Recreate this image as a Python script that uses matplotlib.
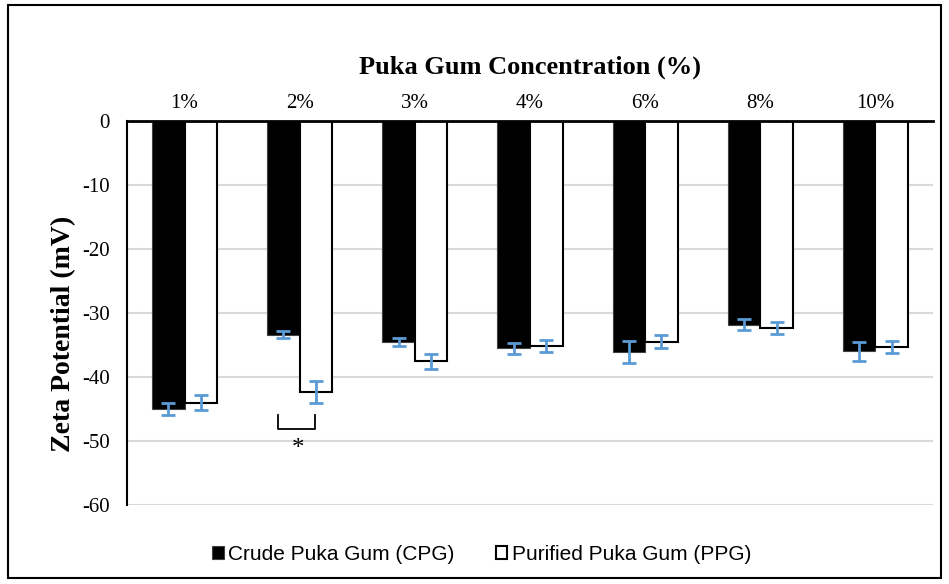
import matplotlib
matplotlib.use("Agg")
import matplotlib.pyplot as plt
import numpy as np
from matplotlib.patches import Rectangle

categories = ["1%", "2%", "3%", "4%", "6%", "8%", "10%"]
cpg = [-45.0, -33.4, -34.5, -35.5, -36.1, -31.8, -36.0]
cpg_err = [0.9, 0.55, 0.65, 0.85, 1.7, 0.8, 1.45]
ppg = [-44.0, -42.4, -37.55, -35.2, -34.5, -32.4, -35.3]
ppg_err = [1.2, 1.7, 1.2, 0.95, 1.0, 0.95, 0.95]
yticks = [0, -10, -20, -30, -40, -50, -60]

serif = "Liberation Serif"
sans = "Liberation Sans"

fig = plt.figure(figsize=(9.49, 5.84), dpi=100)
ax = fig.add_axes([0.1338, 0.1353, 0.9831 - 0.1338, 0.7928 - 0.1353])

x = np.arange(len(categories))
w = 0.283
err_col = "#5B9BD5"
ax.bar(x - w / 2, cpg, w, color="black", edgecolor="#404040", linewidth=0.8,
       label="Crude Puka Gum (CPG)", zorder=2)
ax.bar(x + w / 2, ppg, w, color="white", edgecolor="black", linewidth=1.5,
       label="Purified Puka Gum (PPG)", zorder=2)
ax.errorbar(x - w / 2, cpg, yerr=cpg_err, fmt="none", ecolor=err_col,
            elinewidth=2, capsize=5, capthick=2, zorder=3)
ax.errorbar(x + w / 2, ppg, yerr=ppg_err, fmt="none", ecolor=err_col,
            elinewidth=2, capsize=5, capthick=2, zorder=3)

ax.set_xlim(-0.5, len(categories) - 0.5)
ax.set_ylim(-60, 0)
ax.set_yticks(yticks)
ax.set_yticklabels([str(v) for v in yticks], fontfamily=serif, fontsize=15)
ax.yaxis.grid(True, color="#D9D9D9", linewidth=1.5, zorder=0)
ax.set_axisbelow(True)
ax.tick_params(axis="y", length=0, pad=12.5)
ax.xaxis.tick_top()
ax.set_xticks(x)
ax.set_xticklabels(categories, fontfamily=serif, fontsize=15)
ax.tick_params(axis="x", length=0, pad=6)
for s in ["right", "bottom"]:
    ax.spines[s].set_visible(False)
ax.spines["top"].set_linewidth(2)
ax.spines["left"].set_linewidth(1.5)
ax.spines["top"].set_zorder(4)

ax.set_title("Puka Gum Concentration (%)", fontfamily=serif, fontweight="bold",
             fontsize=19, pad=34)
ax.set_ylabel("Zeta Potential (mV)", fontfamily=serif, fontweight="bold",
              fontsize=20)
ax.yaxis.set_label_coords(-0.063, 0.445)

# significance bracket for 2%
bx0, bx1 = x[1] - w / 2 - 0.045, x[1] + w / 2 - 0.01
ax.plot([bx0, bx0, bx1, bx1], [-45.9, -48.1, -48.1, -45.9], color="black",
        linewidth=1.3, clip_on=False, zorder=3)
ax.text(x[1] - 0.015, -51.3, "*", ha="center", va="center", fontsize=18,
        fontfamily=serif)

leg = ax.legend(loc="center", bbox_to_anchor=(0.44, -0.128), ncol=2,
                frameon=False, prop={"family": sans, "size": 15},
                handlelength=0.55, handleheight=0.55, handletextpad=0.2,
                columnspacing=2.0)

fig.patches.append(Rectangle((0.008, 0.01), 0.984, 0.982, transform=fig.transFigure,
                             fill=False, edgecolor="black", linewidth=1.5))

fig.savefig("out.png", dpi=100)
